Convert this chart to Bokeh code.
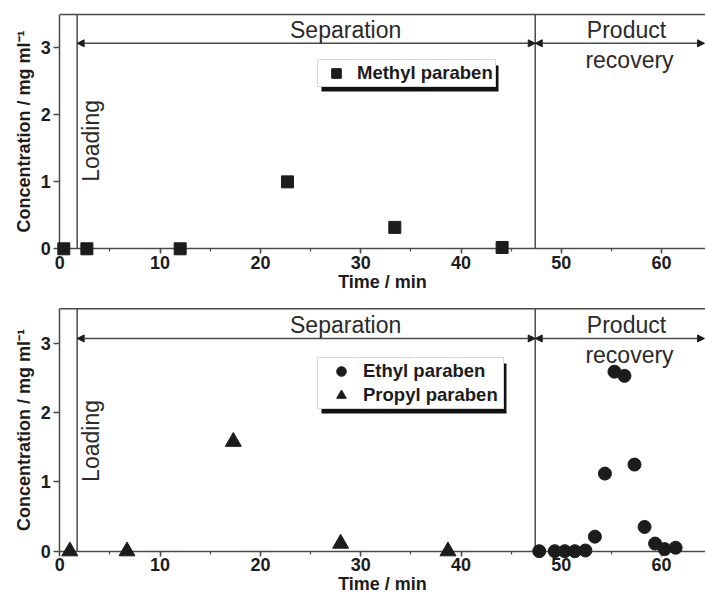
import math
from bokeh.plotting import figure
from bokeh.models import (Range1d, SingleIntervalTicker, Arrow,
                          NormalHead, Label, Legend, LegendItem, BoxAnnotation)
from bokeh.layouts import column
from bokeh.embed import file_html
from bokeh.resources import INLINE

# ---------------- data ----------------
methyl_time = [0.4, 2.7, 12.0, 22.7, 33.4, 44.1]
methyl_conc = [0.0, 0.0, 0.0, 1.0, 0.32, 0.02]

propyl_time = [1.0, 6.7, 17.3, 28.0, 38.7]
propyl_conc = [0.0, 0.0, 1.58, 0.11, 0.0]

ethyl_time = [47.8, 49.35, 50.35, 51.35, 52.4, 53.35, 54.35, 55.3, 56.3,
              57.3, 58.3, 59.35, 60.3, 61.4]
ethyl_conc = [0.0, 0.0, 0.0, 0.0, 0.01, 0.21, 1.12, 2.59, 2.53,
              1.25, 0.35, 0.11, 0.03, 0.05]

loading_end = 1.73      # min, end of loading step
separation_end = 47.4   # min, end of separation step
phase_bounds = [loading_end, separation_end]
arrow_level = 3.07      # mg/ml, height of the phase arrows

x_ticks_interval = 10
y_ticks_interval = 1
y_top = 3.5             # top of the concentration axis

# ---------------- layout constants ----------------
FONT = "Liberation Sans"
W = 705
X0_PX = 59.3          # canvas x of t = 0
XPU = 10.03           # px per minute
X_START = -X0_PX / XPU
X_END = (W - X0_PX) / XPU
INK = "#1c1c1c"
LINE = "#4a4a4a"


def make_panel(height, y0_px, ypu, tick_standoff, label_standoff):
    """Whole canvas is the frame; axes are pinned at t = 0 and c = 0."""
    p = figure(width=W, height=height, output_backend="svg", toolbar_location=None,
               x_range=Range1d(X_START, X_END),
               y_range=Range1d(-(height - y0_px) / ypu, y0_px / ypu),
               min_border_left=0, min_border_right=0, min_border_top=0,
               min_border_bottom=0)
    p.xgrid.visible = False
    p.ygrid.visible = False
    p.outline_line_color = None
    p.background_fill_color = "white"
    p.border_fill_color = "white"

    p.xaxis.ticker = SingleIntervalTicker(interval=x_ticks_interval, num_minor_ticks=2)
    p.yaxis.ticker = SingleIntervalTicker(interval=y_ticks_interval, num_minor_ticks=0)
    p.xaxis.fixed_location = 0
    p.yaxis.fixed_location = 0
    p.xaxis.bounds = (0, 68)
    p.yaxis.bounds = (0, y_top)
    for ax in (p.xaxis, p.yaxis):
        ax.axis_line_color = LINE
        ax.axis_line_width = 1.5
        ax.major_tick_line_color = LINE
        ax.major_tick_line_width = 1.5
        ax.minor_tick_line_color = LINE
        ax.minor_tick_line_width = 1.2
        ax.major_tick_in = 0
        ax.minor_tick_in = 0
        ax.major_label_text_font = FONT
        ax.major_label_text_font_style = "bold"
        ax.major_label_text_font_size = "18px"
        ax.major_label_text_color = INK
        ax.axis_label_text_font = FONT
        ax.axis_label_text_font_style = "bold"
        ax.axis_label_text_font_size = "18px"
        ax.axis_label_text_color = INK
    p.xaxis.major_tick_out = 5
    p.xaxis.minor_tick_out = 3
    p.yaxis.major_tick_out = 6
    p.yaxis.minor_tick_line_color = None
    p.yaxis.major_label_standoff = 3
    p.yaxis.axis_label_standoff = 3
    p.xaxis.major_label_standoff = tick_standoff
    p.xaxis.axis_label_standoff = label_standoff
    p.xaxis.axis_label = "Time / min"
    p.yaxis.axis_label = "Concentration / mg ml\u207b\u00b9"

    # top border of the plotting box
    p.segment(x0=[0], y0=[y_top], x1=[X_END + 1], y1=[y_top], line_color=LINE,
              line_width=1.5)
    # phase boundaries
    p.segment(x0=phase_bounds, y0=[0] * len(phase_bounds), x1=phase_bounds,
              y1=[y_top] * len(phase_bounds), line_color=LINE, line_width=1.5)
    # phase arrows
    for xs, xe in ((loading_end, separation_end), (separation_end, X_END - 0.1)):
        p.add_layout(Arrow(x_start=xs, y_start=arrow_level, x_end=xe, y_end=arrow_level,
                           line_color=LINE, line_width=1.5,
                           start=NormalHead(size=7, fill_color=INK, line_color=INK),
                           end=NormalHead(size=7, fill_color=INK, line_color=INK)))
    return p


def add_texts(p, ypu):
    common = dict(text_font=FONT, text_font_size="23px", text_color="#2a2a2a")
    p.add_layout(Label(x=28.5, y=arrow_level + 13 / ypu, text="Separation",
                       text_align="center", text_baseline="alphabetic", **common))
    p.add_layout(Label(x=56.5, y=arrow_level + 13 / ypu, text="Product",
                       text_align="center", text_baseline="alphabetic", **common))
    p.add_layout(Label(x=56.8, y=arrow_level - 17 / ypu, text="recovery",
                       text_align="center", text_baseline="alphabetic", **common))
    p.add_layout(Label(x=3.93 - 8 / XPU, y=1.0, text="Loading", angle=math.pi / 2,
                       text_align="left", text_baseline="alphabetic", **common))


def add_legend(p, height, y0_px, ypu, items, left_px, top_px, h_px, w_px, glyph_w,
               standoff, label_w):
    """left_px/top_px: canvas position of the legend box's top-left corner."""
    def x_of(px):
        return X_START + px / XPU

    def y_of(py):
        return (y0_px - py) / ypu

    p.add_layout(BoxAnnotation(left=x_of(left_px + 4), right=x_of(left_px + 4 + w_px),
                               top=y_of(top_px + 4), bottom=y_of(top_px + 4 + h_px),
                               fill_color="#111111", fill_alpha=1.0, line_color=None,
                               level="annotation"))
    leg = Legend(items=items, location=(left_px, height - top_px - h_px),
                 border_line_color="#b0b0b0", border_line_width=1,
                 background_fill_color="white", background_fill_alpha=1.0,
                 label_text_font=FONT, label_text_font_style="bold",
                 label_text_font_size="18.5px", label_text_color=INK,
                 padding=1, spacing=0, margin=0, glyph_width=glyph_w, glyph_height=24,
                 label_standoff=standoff, label_height=20, label_width=label_w)
    p.add_layout(leg)


# ---------------- top panel ----------------
H1, Y0_1, YPU1 = 302, 248.3, 66.94
p1 = make_panel(H1, Y0_1, YPU1, 2, 0)
r_m = p1.scatter(methyl_time, methyl_conc, marker="square", size=12,
                 fill_color=INK, line_color=INK, level="overlay")
add_texts(p1, YPU1)
add_legend(p1, H1, Y0_1, YPU1, [LegendItem(label="Methyl paraben", renderers=[r_m])],
           317, 61, 26, 177, 34, 4, 137)

# ---------------- bottom panel ----------------
H2, Y0_2, YPU2 = 295, 248.7, 69.3
p2 = make_panel(H2, Y0_2, YPU2, 2, -1)
r_e = p2.scatter(ethyl_time, ethyl_conc, marker="circle", size=13,
                 fill_color=INK, line_color=INK, level="overlay")
r_p = p2.scatter(propyl_time, propyl_conc, marker="triangle", size=16,
                 fill_color=INK, line_color=INK, level="overlay")
add_texts(p2, YPU2)
add_legend(p2, H2, Y0_2, YPU2, [LegendItem(label="Ethyl paraben", renderers=[r_e]),
                                LegendItem(label="Propyl paraben", renderers=[r_p])],
           317, 57, 50, 185, 44, 0, 139)

layout = column(p1, p2, spacing=0)
open("out.html", "w").write(file_html(layout, INLINE))
